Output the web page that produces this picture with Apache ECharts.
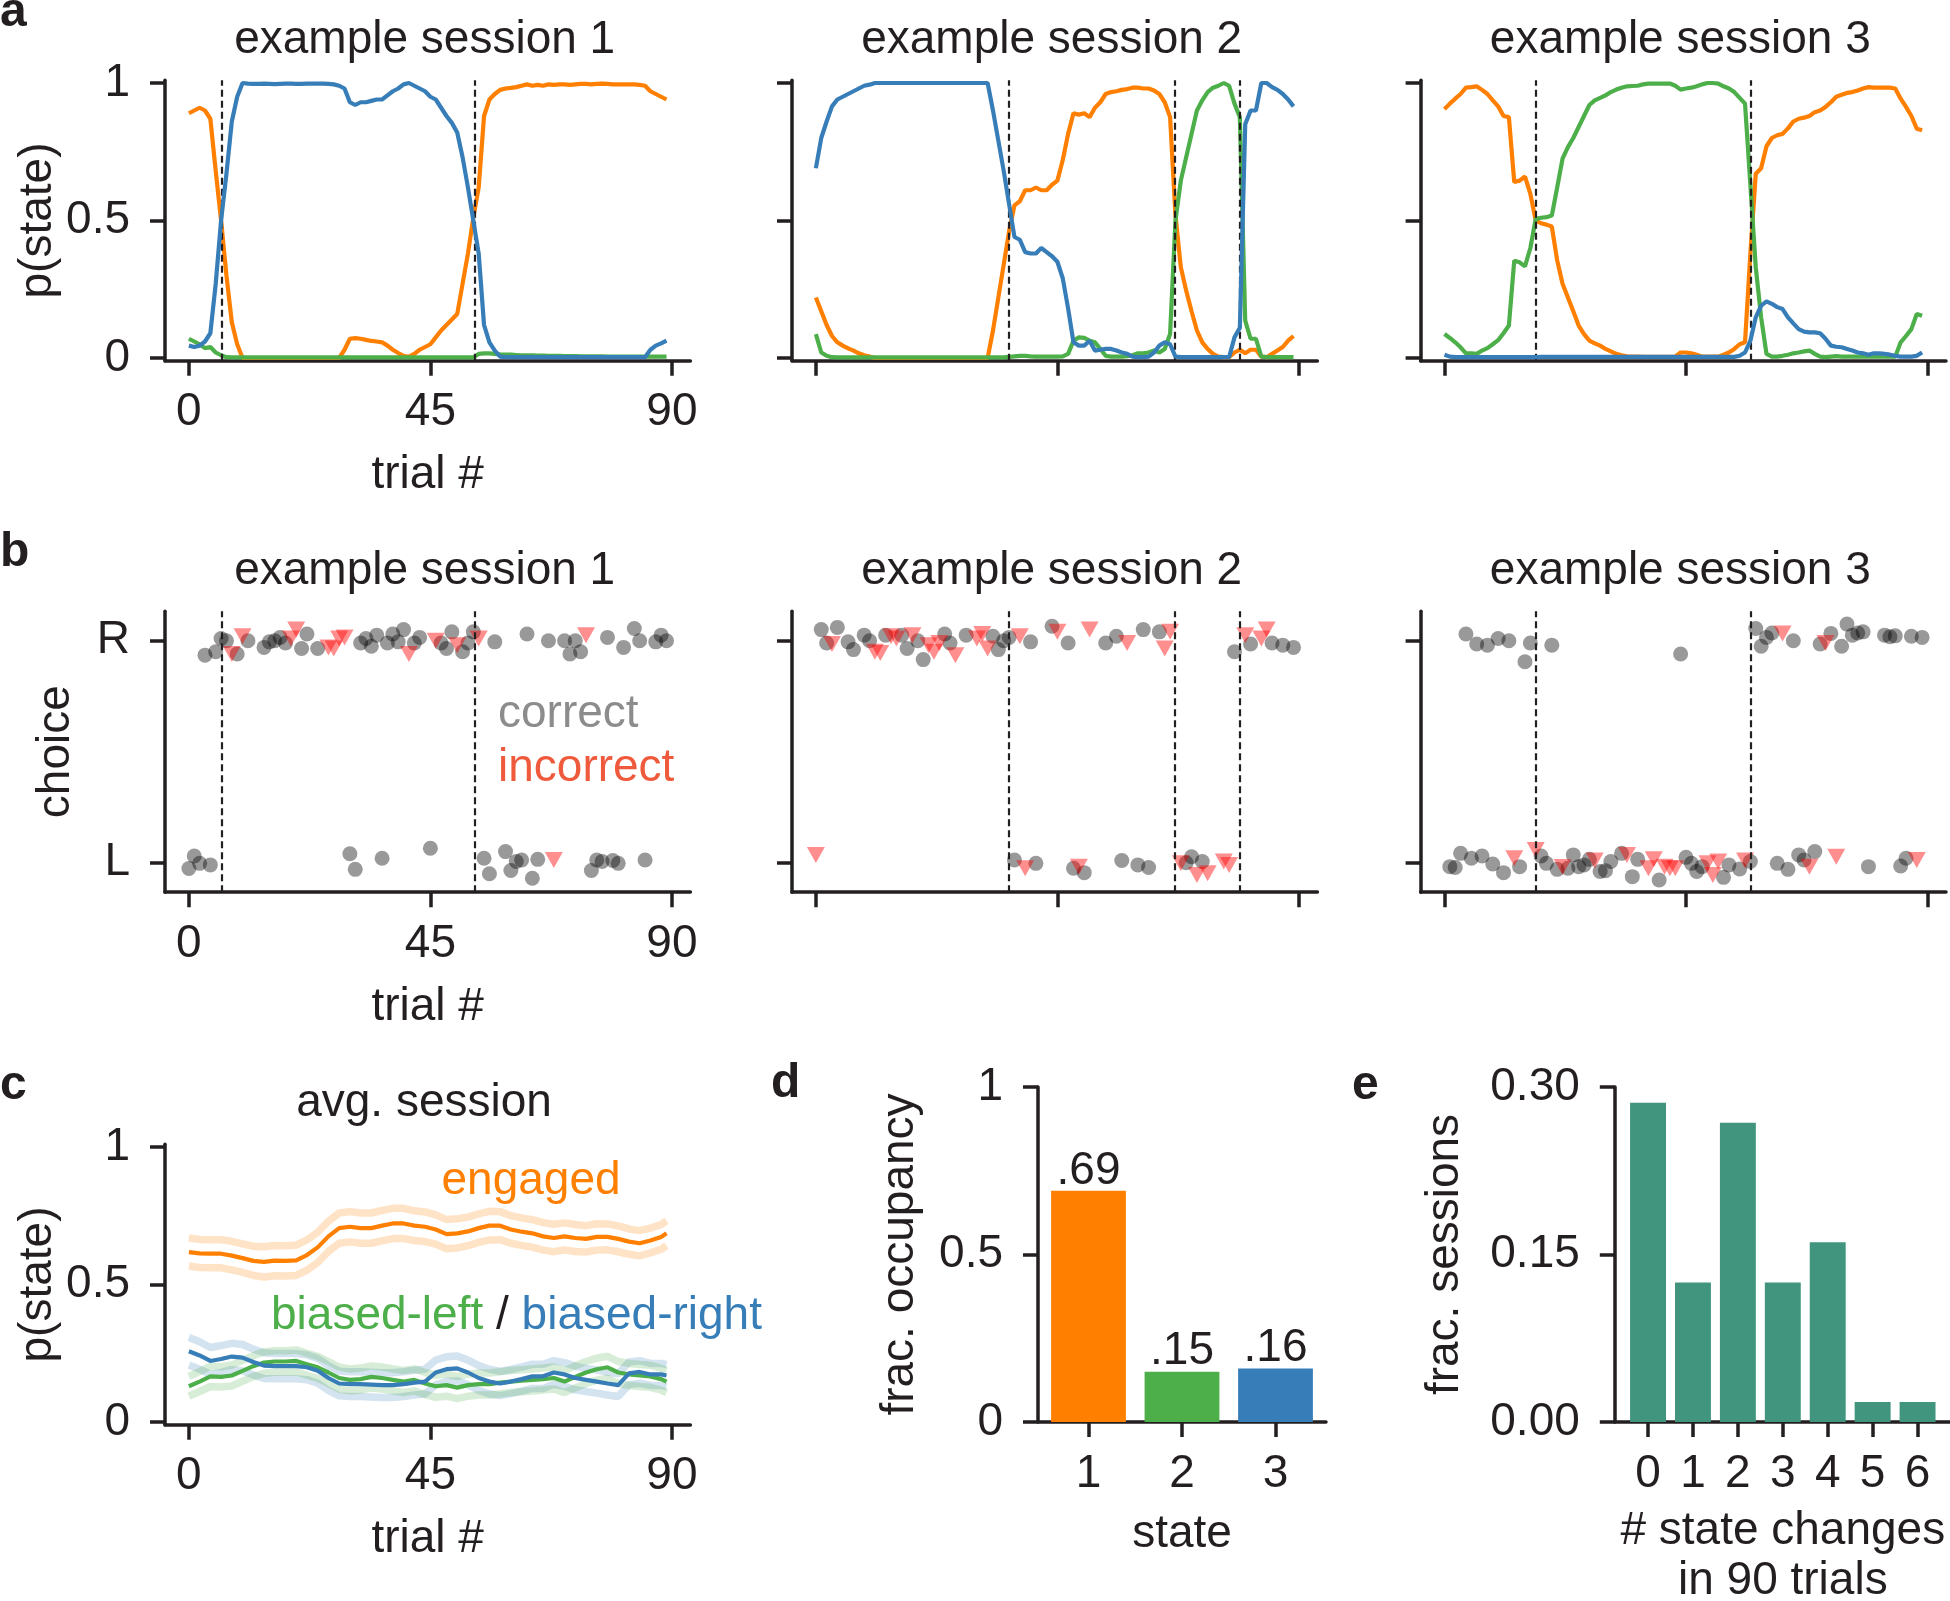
<!DOCTYPE html>
<html>
<head>
<meta charset="utf-8">
<script src="https://cdn.jsdelivr.net/npm/echarts@6/dist/echarts.min.js"></script>
<style>
html,body{margin:0;padding:0;background:#fff;}
#chart{width:1950px;height:1601px;}
</style>
</head>
<body>
<div id="chart"></div>
<script>
// ---------------- DATA ----------------
const trialIdx = Array.from({length: 90}, (_, i) => i);
const trialTicks = [0, 45, 90];
const probTicks = [0, 0.5, 1];
const choiceLabels = ['L', 'R'];
const stateLabels = ['1', '2', '3'];
const changeLabels = ['0', '1', '2', '3', '4', '5', '6'];

// panel a: posterior state probabilities (engaged = orange, biased-left = green, biased-right = blue)
const a1Orange = [
  .89,.90,.91,.90,.87,.68,.50,.30,.13,.05,
  0,0,0,0,0,0,0,0,0,0,
  0,0,0,0,0,0,0,0,0,.03,
  .07,.072,.07,.066,.062,.06,.057,.045,.03,.018,
  .008,.004,.015,.03,.04,.05,.075,.10,.12,.14,
  .16,.27,.38,.51,.62,.88,.94,.96,.975,.98,
  .982,.985,.99,.995,.99,.993,.99,.995,.993,.995,
  .995,.993,.995,.997,.997,.995,.997,.998,.997,.995,
  .995,.995,.995,.995,.993,.99,.97,.96,.95,.94];
const a1Green = [
  .07,.06,.05,.036,.04,.02,.01,.003,.002,.002,
  .002,.002,.002,.002,.002,.002,.002,.002,.002,.002,
  .002,.002,.002,.002,.002,.002,.002,.002,.002,.002,
  .002,.002,.002,.002,.002,.002,.002,.002,.002,.002,
  .002,.002,.002,.002,.002,.002,.002,.002,.002,.002,
  .002,.002,.002,.002,.015,.017,.017,.015,.013,.012,
  .012,.011,.01,.01,.01,.009,.009,.008,.008,.008,
  .007,.007,.007,.006,.006,.006,.006,.006,.005,.005,
  .005,.005,.005,.005,.005,.005,.005,.005,.005,.005];
const a1Blue = [
  .045,.04,.045,.06,.09,.27,.50,.67,.86,.95,
  1.0,.998,.997,.997,.998,.997,.996,.997,.998,.998,
  .997,.997,.998,.998,.998,.998,.997,.995,.99,.98,
  .93,.92,.93,.93,.935,.94,.94,.955,.97,.98,
  .995,1.0,.99,.98,.97,.95,.94,.91,.88,.855,
  .82,.73,.62,.50,.38,.12,.057,.027,.005,.003,
  .003,.003,.003,.003,.003,.003,.003,.003,.003,.003,
  .003,.003,.003,.003,.003,.003,.003,.003,.003,.003,
  .003,.003,.003,.003,.003,.003,.03,.045,.053,.063];

const a2Orange = [
  .22,.17,.12,.08,.057,.045,.035,.027,.017,.01,
  .005,0,0,0,0,0,0,0,0,0,
  0,0,0,0,0,0,0,0,0,0,
  0,0,0,.10,.22,.34,.46,.555,.57,.61,
  .61,.62,.61,.61,.63,.645,.72,.815,.89,.885,
  .89,.876,.91,.93,.96,.967,.97,.975,.978,.983,
  .983,.98,.98,.973,.96,.93,.876,.52,.33,.245,
  .17,.10,.057,.033,.015,.005,.003,.003,.02,.03,
  .017,.03,.03,.005,.003,.015,.027,.04,.063,.08];
const a2Green = [
  .087,.02,.008,.003,.002,.002,.002,.002,.002,.002,
  .002,.002,.002,.002,.002,.002,.002,.002,.002,.002,
  .002,.002,.002,.002,.002,.002,.002,.002,.002,.002,
  .002,.002,.002,.002,.002,.002,.004,.006,.008,.008,
  .006,.005,.005,.005,.005,.005,.006,.015,.063,.075,
  .073,.063,.057,.033,.008,.005,.005,.005,.007,.01,
  .017,.017,.02,.027,.02,.033,.087,.50,.645,.73,
  .815,.90,.937,.967,.983,.99,1.0,.99,.925,.876,
  .136,.07,.07,.005,.003,.003,.003,.003,.003,.003];
const a2Blue = [
  .69,.80,.86,.915,.94,.95,.96,.97,.98,.99,
  .994,1,1,1,1,1,1,1,1,1,
  1,1,1,1,1,1,1,1,1,1,
  1,1,1,.90,.79,.68,.56,.44,.43,.385,
  .38,.38,.40,.385,.37,.35,.29,.18,.057,.045,
  .045,.063,.027,.03,.033,.033,.027,.02,.015,.005,
  .003,.003,.005,.02,.045,.057,.05,.005,.003,.003,
  .003,.003,.003,.003,.003,.003,.003,.003,.075,.11,
  .85,.90,.90,1.0,1.0,.985,.975,.96,.94,.915];

const a3Orange = [
  .905,.925,.943,.96,.983,.985,.988,.975,.96,.937,
  .915,.88,.876,.64,.645,.66,.597,.50,.49,.485,
  .478,.355,.27,.22,.17,.118,.087,.063,.053,.045,
  .033,.024,.015,.01,.006,.005,.005,.004,.004,.004,
  .004,.004,.004,.005,.02,.02,.017,.012,.005,.005,
  .005,.005,.012,.02,.033,.05,.057,.38,.67,.69,
  .77,.80,.81,.815,.835,.86,.87,.874,.88,.894,
  .90,.913,.93,.95,.957,.964,.967,.973,.98,.985,
  .983,.983,.983,.983,.98,.943,.913,.88,.834,.828];
const a3Green = [
  .087,.073,.057,.039,.017,.017,.015,.027,.036,.05,
  .065,.09,.118,.354,.348,.333,.40,.506,.51,.512,
  .518,.62,.725,.767,.80,.84,.88,.92,.937,.946,
  .955,.967,.976,.983,.988,.989,.99,.995,.998,.998,
  .998,.998,.998,.99,.976,.98,.983,.988,.995,1.0,
  1.0,.998,.988,.98,.967,.946,.925,.63,.33,.148,
  .015,.005,.005,.008,.012,.017,.02,.024,.027,.015,
  .005,.003,.005,.007,.005,.005,.005,.005,.005,.005,
  .005,.005,.005,.005,.005,.057,.08,.105,.16,.154];
const a3Blue = [
  .012,.005,.003,.003,.003,.003,.003,.003,.003,.003,
  .003,.003,.003,.003,.003,.003,.003,.003,.004,.004,
  .004,.004,.004,.004,.004,.004,.004,.004,.004,.004,
  .004,.004,.004,.004,.004,.004,.004,.004,.004,.004,
  .004,.004,.004,.004,.004,.004,.004,.004,.004,.004,
  .004,.004,.004,.004,.004,.008,.02,.063,.148,.19,
  .206,.197,.185,.178,.148,.126,.105,.096,.093,.093,
  .09,.07,.045,.041,.039,.033,.027,.02,.017,.012,
  .017,.017,.015,.012,.008,.005,.005,.005,.008,.02];

// state-change trials (dashed lines)
const s1Changes = [6.2, 53.3];
const s2Changes = [35.9, 66.9, 79.0];
const s3Changes = [17.0, 57.1];

// panel b: choices (R = 1, L = 0, jittered) for correct / incorrect trials
const b1Correct = [
  [0,-0.026],[1,0.03],[2,-0.003],[4,-0.01],
  [3,0.935],[5,0.95],[6,1.01],[7,1.0],[9,0.94],[11,1.0],[14,0.97],[15,0.995],[16,1.0],[17,1.015],
  [18,0.99],[21,0.965],[22,1.03],[24,0.965],[32,0.99],[33,1.01],[34,0.975],[35,1.025],[37,0.99],
  [38,1.03],[39,0.995],[40,1.05],[42,0.99],[43,1.015],[47,0.99],[48,0.965],[49,1.04],[51,0.95],
  [52,0.99],[53,1.04],[57,0.995],[63,1.03],[67,1.0],[70,1.0],[71,0.94],[72,1.0],[73,0.95],
  [78,1.015],[81,0.97],[83,1.055],[84,1.0],[87,0.995],[88,1.025],[89,1.0],
  [30,0.04],[31,-0.03],[36,0.02],[45,0.065],[55,0.02],[56,-0.05],[59,0.05],[60,-0.035],[61,0.005],
  [62,0.012],[64,-0.07],[65,0.015],[75,-0.035],[76,0.012],[77,0.005],[79,0.01],[80,-0.003],[85,0.012]];
const b1Incorrect = [
  [8,0.94],[10,1.02],[19,1.01],[20,1.05],[26,0.97],[27,0.965],[28,1.01],[29,1.015],
  [41,0.94],[46,1.0],[50,0.98],[54,1.01],[74,1.025],[68,0.012]];

const b2Correct = [
  [1,1.05],[2,0.99],[4,1.06],[6,0.995],[7,0.96],[9,1.025],[10,1.0],[13,1.025],[16,1.025],[17,0.965],
  [19,1.0],[20,0.915],[24,1.03],[25,0.99],[28,1.025],[33,1.02],[34,0.96],[35,1.0],[36,1.015],
  [40,0.995],[44,1.065],[47,0.99],[54,0.99],[56,1.02],[61,1.05],[64,1.04],[78,0.95],[81,0.985],
  [85,0.99],[87,0.98],[89,0.97],
  [37,0.012],[41,-0.003],[48,-0.025],[50,-0.045],[57,0.01],[60,-0.01],[62,-0.022],[69,0.0],
  [70,0.027],[72,0.005]];
const b2Incorrect = [
  [3,0.985],[11,0.95],[12,0.945],[14,1.02],[15,1.01],[18,1.025],[21,0.98],[22,0.95],[23,0.99],
  [26,0.935],[30,1.01],[31,1.03],[32,0.965],[38,1.02],[45,1.04],[51,1.05],[58,0.99],[65,0.965],
  [66,1.04],[80,1.025],[83,1.01],[84,1.05],
  [0,0.035],[39,-0.025],[49,-0.018],[68,-0.003],[71,-0.055],[73,-0.048],[76,0.005],[77,-0.01]];

const b3Correct = [
  [4,1.03],[6,0.985],[8,0.98],[10,1.01],[12,1.0],[15,0.905],[16,0.99],[20,0.98],[44,0.94],
  [58,1.055],[59,0.975],[60,1.015],[61,1.035],[65,1.0],[70,0.985],[72,1.033],[74,0.975],[75,1.075],
  [76,1.025],[77,1.035],[78,1.04],[82,1.025],[83,1.018],[84,1.022],[87,1.02],[89,1.015],
  [1,-0.018],[2,-0.022],[3,0.042],[5,0.02],[7,0.03],[9,-0.006],[11,-0.045],[14,-0.018],[18,0.03],
  [19,-0.003],[21,-0.03],[23,-0.025],[24,0.035],[25,-0.018],[26,-0.01],[27,0.015],[29,-0.04],
  [30,-0.036],[31,0.005],[33,0.042],[35,-0.063],[36,0.015],[40,-0.078],[45,0.024],[46,-0.003],
  [47,-0.04],[48,-0.018],[52,-0.066],[53,-0.01],[55,-0.028],[57,0.005],[62,-0.003],[64,-0.03],
  [66,0.035],[67,0.012],[69,0.05],[79,-0.018],[85,-0.015],[86,0.02]];
const b3Incorrect = [
  [63,1.033],[71,0.99],
  [13,0.02],[17,0.057],[22,-0.02],[28,0.01],[34,0.035],[38,-0.025],[39,0.015],[41,-0.018],
  [42,-0.025],[43,-0.025],[49,-0.003],[50,-0.055],[51,0.005],[56,0.01],[68,-0.018],[73,0.027],
  [88,0.012]];

// panel c: average session (mean and s.e.m.)
const cTrials = [0,2,4,6,8,10,12,14,16,18,20,22,24,26,28,30,32,34,36,38,40,42,44,46,48,50,
  52,54,56,58,60,62,64,66,68,70,72,74,76,78,80,82,84,86,88,89];
const cEngaged = [.618,.613,.612,.612,.605,.596,.586,.582,.587,.586,.588,.607,.635,.675,.705,.71,
  .705,.705,.714,.722,.722,.714,.71,.70,.683,.686,.693,.705,.714,.714,.70,.692,.686,.675,.669,.675,
  .669,.666,.673,.673,.666,.656,.65,.66,.673,.686];
const cLeft = [.13,.147,.166,.164,.169,.186,.203,.216,.22,.22,.222,.21,.199,.18,.16,.153,.156,.164,
  .16,.153,.147,.153,.14,.13,.134,.125,.134,.138,.138,.143,.147,.15,.153,.156,.16,.147,.164,.18,
  .192,.199,.18,.173,.169,.166,.156,.147];
const cRight = [.257,.242,.222,.229,.238,.234,.218,.205,.203,.203,.203,.199,.186,.16,.14,.138,.138,
  .136,.134,.134,.138,.143,.147,.18,.192,.195,.18,.16,.147,.14,.147,.156,.166,.166,.18,.173,.16,
  .153,.147,.14,.134,.177,.182,.173,.173,.169];
const cErrEngaged = [.051,.051,.051,.051,.052,.052,.053,.055,.055,.055,.055,.055,.055,.055,.055,.055,
  .055,.055,.055,.055,.055,.054,.054,.053,.053,.053,.052,.052,.052,.051,.05,.05,.05,.05,.05,.049,
  .049,.048,.048,.047,.047,.046,.046,.045,.045,.045];
const cErrLeft = [.036,.036,.037,.037,.038,.038,.038,.039,.039,.039,.04,.04,.04,.04,.04,.04,.04,.04,
  .04,.04,.04,.04,.04,.04,.04,.04,.04,.04,.04,.04,.04,.04,.04,.04,.04,.04,.04,.04,.04,.04,.04,.04,
  .04,.04,.04,.04];
const cErrRight = [.05,.05,.049,.049,.048,.048,.047,.047,.046,.046,.046,.045,.045,.045,.045,.045,
  .045,.045,.045,.045,.045,.045,.045,.045,.045,.045,.045,.045,.045,.044,.044,.044,.044,.044,.043,
  .043,.043,.042,.042,.042,.041,.041,.041,.04,.04,.04];

// panel d: fractional occupancy per state
const occupancy = [0.69, 0.15, 0.16];
// panel e: fraction of sessions by number of state changes
const changeFrac = [0.286, 0.125, 0.268, 0.125, 0.161, 0.018, 0.018];

// ---------------- STYLE ----------------
const FONT = "'Liberation Sans', Arial, Helvetica, sans-serif";
const INK = '#231f20';
const ORANGE = '#ff7f00', GREEN = '#4daf4a', BLUE = '#377eb8', TEAL = '#41957f';
const FS = 46;
const LW = 4.2;
const lab = {fontSize: FS, fontFamily: FONT, color: INK};

const colLeft = [165, 792, 1420.6];
const colW = 525.4;
const gridList = [];
const gridCommon = {outerBoundsMode: 'none', containLabel: false};
colLeft.forEach(l => gridList.push(Object.assign({left: l, top: 80.25, width: colW, height: 280.5}, gridCommon)));
colLeft.forEach(l => gridList.push(Object.assign({left: l, top: 611.2, width: colW, height: 281}, gridCommon)));
gridList.push(Object.assign({left: 165, top: 1144.25, width: colW, height: 280.5}, gridCommon));
gridList.push(Object.assign({left: 1038, top: 1087, width: 288, height: 335}, gridCommon));
gridList.push(Object.assign({left: 1614.8, top: 1087, width: 336, height: 335}, gridCommon));

function axisBase() {
  return {
    axisLine: {show: true, onZero: false, lineStyle: {color: INK, width: 3.5}},
    axisTick: {show: true, inside: false, length: 15, lineStyle: {color: INK, width: 3.5}},
    splitLine: {show: false},
    nameTextStyle: {fontSize: FS, fontFamily: FONT, color: INK},
    nameLocation: 'middle'
  };
}
function trialX(gi, showLabel) {
  const a = axisBase();
  return Object.assign(a, {
    type: 'value', gridIndex: gi, min: -4.45, max: 93.45,
    axisTick: Object.assign(a.axisTick, {customValues: trialTicks}),
    axisLabel: Object.assign({show: showLabel, customValues: trialTicks, margin: 29}, lab),
    name: showLabel ? 'trial #' : '', nameGap: 92
  });
}
function probY(gi, showLabel) {
  const a = axisBase();
  return Object.assign(a, {
    type: 'value', gridIndex: gi, min: -0.01, max: 1.01,
    axisTick: Object.assign(a.axisTick, {customValues: probTicks}),
    axisLabel: Object.assign({show: showLabel, customValues: probTicks, margin: 35,
      formatter: v => String(v)}, lab),
    name: showLabel ? 'p(state)' : '', nameGap: 104
  });
}
function choiceY(gi, showLabel) {
  const a = axisBase();
  return Object.assign(a, {
    type: 'value', gridIndex: gi, min: -0.133, max: 1.133,
    axisTick: Object.assign(a.axisTick, {customValues: [0, 1]}),
    axisLabel: Object.assign({show: showLabel, customValues: [0, 1], margin: 35,
      formatter: v => choiceLabels[Math.round(v)]}, lab),
    name: showLabel ? 'choice' : '', nameGap: 86
  });
}

const xAxes = [], yAxes = [], series = [];
const aSets = [[a1Orange, a1Green, a1Blue, s1Changes], [a2Orange, a2Green, a2Blue, s2Changes],
  [a3Orange, a3Green, a3Blue, s3Changes]];
const bSets = [[b1Correct, b1Incorrect, s1Changes], [b2Correct, b2Incorrect, s2Changes],
  [b3Correct, b3Incorrect, s3Changes]];

function dashed(changes) {
  return {
    silent: true, symbol: ['none', 'none'], label: {show: false},
    lineStyle: {type: [7, 4], color: INK, width: 2.2}, emphasis: {disabled: true},
    data: changes.map(x => ({xAxis: x}))
  };
}

aSets.forEach((s, k) => {
  const gi = k;
  xAxes.push(trialX(gi, k === 0));
  yAxes.push(probY(gi, k === 0));
  [[s[0], ORANGE], [s[1], GREEN], [s[2], BLUE]].forEach(([arr, col], j) => {
    const ser = {
      type: 'line', xAxisIndex: gi, yAxisIndex: gi, showSymbol: false, symbol: 'none',
      data: trialIdx.map((t, i) => [t, arr[i]]),
      lineStyle: {color: col, width: LW}, itemStyle: {color: col}, z: 3 + j
    };
    if (j === 0) ser.markLine = dashed(s[3]);
    series.push(ser);
  });
});

bSets.forEach((s, k) => {
  const gi = 3 + k;
  xAxes.push(trialX(gi, k === 0));
  yAxes.push(choiceY(gi, k === 0));
  series.push({
    type: 'scatter', xAxisIndex: gi, yAxisIndex: gi, symbol: 'circle', symbolSize: 15,
    data: s[0], itemStyle: {color: 'rgba(0,0,0,0.5)'}, markLine: dashed(s[2]), z: 3
  });
  series.push({
    type: 'scatter', xAxisIndex: gi, yAxisIndex: gi, symbol: 'triangle', symbolRotate: 180,
    symbolSize: [18, 16], data: s[1], itemStyle: {color: 'rgba(255,0,0,0.55)'}, z: 4
  });
});

// panel c
xAxes.push(trialX(6, true));
yAxes.push(probY(6, true));
[[cEngaged, cErrEngaged, ORANGE], [cRight, cErrRight, BLUE], [cLeft, cErrLeft, GREEN]].forEach(([m, e, col]) => {
  [1, -1].forEach(sgn => {
    series.push({
      type: 'line', xAxisIndex: 6, yAxisIndex: 6, showSymbol: false, symbol: 'none',
      data: cTrials.map((t, i) => [t, m[i] + sgn * e[i]]),
      lineStyle: {color: col, width: 7.5, opacity: 0.22}, z: 2
    });
  });
});
[[cEngaged, ORANGE], [cLeft, GREEN], [cRight, BLUE]].forEach(([m, col]) => {
  series.push({
    type: 'line', xAxisIndex: 6, yAxisIndex: 6, showSymbol: false, symbol: 'none',
    data: cTrials.map((t, i) => [t, m[i]]), lineStyle: {color: col, width: LW}, z: 4
  });
});

// panel d
(function () {
  const a = axisBase();
  xAxes.push(Object.assign(a, {
    type: 'value', gridIndex: 7, min: -0.54, max: 2.54,
    axisTick: Object.assign(a.axisTick, {customValues: [0, 1, 2]}),
    axisLabel: Object.assign({customValues: [0, 1, 2], margin: 29,
      formatter: v => stateLabels[Math.round(v)]}, lab),
    name: 'state', nameGap: 89
  }));
  const b = axisBase();
  yAxes.push(Object.assign(b, {
    type: 'value', gridIndex: 7, min: 0, max: 1, interval: 0.5,
    axisLabel: Object.assign({margin: 35, formatter: v => String(v)}, lab),
    name: 'frac. occupancy', nameGap: 115
  }));
  const stateColors = [ORANGE, GREEN, BLUE];
  series.push({
    type: 'bar', xAxisIndex: 7, yAxisIndex: 7, barWidth: 0.8 * 288 / 3.08,
    data: occupancy.map((v, i) => ({value: [i, v], itemStyle: {color: stateColors[i]}})),
    label: {show: true, position: 'top', distance: -3, fontSize: FS, fontFamily: FONT, color: INK,
      formatter: p => p.value[1].toFixed(2).replace(/^0/, '')}
  });
})();

// panel e
(function () {
  const idx = changeLabels.map((_, i) => i);
  const a = axisBase();
  xAxes.push(Object.assign(a, {
    type: 'value', gridIndex: 8, min: -0.74, max: 6.74,
    axisTick: Object.assign(a.axisTick, {customValues: idx}),
    axisLabel: Object.assign({customValues: idx, margin: 29,
      formatter: v => changeLabels[Math.round(v)]}, lab),
    name: '# state changes\nin 90 trials', nameGap: 84,
    nameTextStyle: {fontSize: FS, fontFamily: FONT, color: INK, lineHeight: 50}
  }));
  const b = axisBase();
  yAxes.push(Object.assign(b, {
    type: 'value', gridIndex: 8, min: 0, max: 0.3, interval: 0.15,
    axisLabel: Object.assign({margin: 35, formatter: v => v.toFixed(2)}, lab),
    name: 'frac. sessions', nameGap: 146
  }));
  series.push({
    type: 'bar', xAxisIndex: 8, yAxisIndex: 8, barWidth: 0.8 * 336 / 7.48,
    data: changeFrac.map((v, i) => [i, v]), itemStyle: {color: TEAL}
  });
})();

// ---------------- TEXT ----------------
function txt(text, x, y, o) {
  o = o || {};
  const al = o.align || 'center';
  return {
    type: 'text', x: x, y: y, silent: true,
    style: {
      text: text, fill: o.color || INK,
      font: (o.weight || 'normal') + ' ' + (o.size || FS) + 'px ' + FONT,
      align: al, verticalAlign: 'middle', textAlign: al, textVerticalAlign: 'middle'
    }
  };
}
const titleCenters = colLeft.map(l => l + colW / 2);
const graphics = [
  txt('a', 0, 13, {align: 'left', weight: 'bold', size: 48}),
  txt('b', 0, 553, {align: 'left', weight: 'bold', size: 48}),
  txt('c', 0, 1086, {align: 'left', weight: 'bold', size: 48}),
  txt('d', 771, 1084, {align: 'left', weight: 'bold', size: 48}),
  txt('e', 1352, 1086, {align: 'left', weight: 'bold', size: 48}),
  txt('avg. session', 424, 1103),
  txt('correct', 498, 714, {align: 'left', color: '#8c8c8c'}),
  txt('incorrect', 498, 768, {align: 'left', color: '#f05a3c'}),
  txt('engaged', 441.5, 1181, {align: 'left', color: ORANGE}),
  txt('biased-left', 271, 1316, {align: 'left', color: GREEN}),
  txt('/', 496, 1316, {align: 'left', color: INK}),
  txt('biased-right', 521.6, 1316, {align: 'left', color: BLUE})
];
['example session 1', 'example session 2', 'example session 3'].forEach((t, i) => {
  graphics.push(txt(t, titleCenters[i] - 3, 40));
  graphics.push(txt(t, titleCenters[i] - 3, 571));
});

const chart = echarts.init(document.getElementById('chart'), null, {renderer: 'canvas'});
chart.setOption({
  animation: false,
  backgroundColor: '#ffffff',
  textStyle: {fontFamily: FONT},
  grid: gridList,
  xAxis: xAxes,
  yAxis: yAxes,
  series: series,
  graphic: graphics
});
</script>
</body>
</html>
